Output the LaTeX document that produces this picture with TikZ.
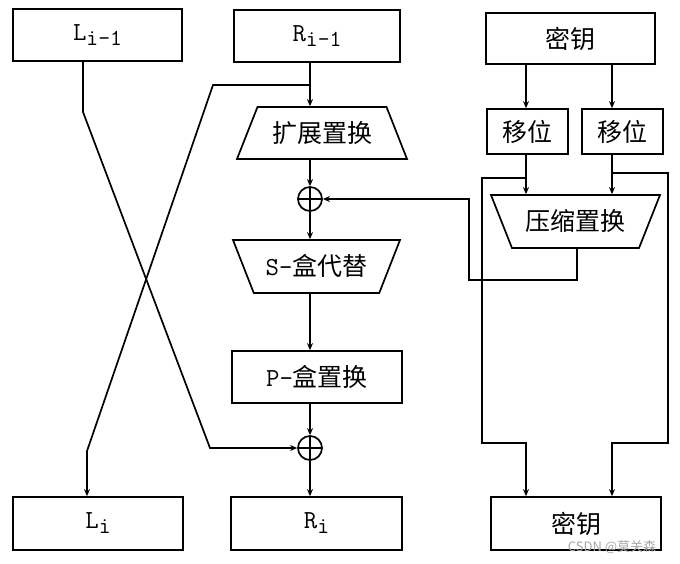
\documentclass[tikz,border=0pt]{standalone}
\usepackage{fontspec}
\newfontfamily\cjk{Noto Sans CJK SC}
\usetikzlibrary{shapes.geometric,arrows.meta}
\newcommand{\lowsub}[1]{\raisebox{-5pt}{\fontsize{23}{24}\selectfont #1}}

\begin{document}
\begin{tikzpicture}[x=1pt,y=-1pt,line width=1.7pt,
  every node/.style={font=\ttfamily\fontsize{26}{28}\selectfont},
  zh/.style={font=\cjk\fontsize{25}{28}\selectfont},
  box/.style={draw,inner sep=0pt},
  trapup/.style={draw,trapezium,trapezium angle=#1,trapezium stretches body,
    inner sep=0pt,text height=35pt,text depth=17pt},
  trapdown/.style={draw,trapezium,trapezium left angle=#1,trapezium right angle=#1,
    trapezium stretches body,inner sep=0pt,text height=35pt,text depth=18pt},
  xor/.style={draw,circle,minimum size=24pt,inner sep=0pt,
    path picture={\draw (path picture bounding box.north) -- (path picture bounding box.south)
      (path picture bounding box.west) -- (path picture bounding box.east);}},
  arr/.style={-{Stealth[length=7pt,width=6pt]}}]
\useasboundingbox (0,0) rectangle (680,563);
            % Boxes
\node[box,minimum width=169pt,minimum height=52pt] (Lprev) at (97.5,35) {L\lowsub{i-1}};
\node[box,minimum width=166pt,minimum height=52pt] (Rprev) at (317,36) {R\lowsub{i-1}};
\node[box,zh,minimum width=169pt,minimum height=51pt] (Ktop) at (570.5,38.5) {密钥};
\node[box,zh,minimum width=81pt,minimum height=45pt] (Sh1) at (527.5,131.5) {移位};
\node[box,zh,minimum width=81pt,minimum height=45pt] (Sh2) at (622.5,131.5) {移位};
\node[box,minimum width=170pt,minimum height=52pt] (Pbox) at (317,377) {P-{\cjk\fontsize{25}{28}\selectfont 盒置换}};
\node[box,minimum width=170pt,minimum height=53pt] (Lnext) at (98,523.5) {L\lowsub{i}};
\node[box,minimum width=171pt,minimum height=53pt] (Rnext) at (316.5,523.5) {R\lowsub{i}};
\node[box,zh,minimum width=170pt,minimum height=53pt] (Kbot) at (576,523.5) {密钥};
            % Trapezia
\node[trapup=68.5,zh,minimum width=170pt] (Exp) at (322,133) {扩展置换};
\node[trapdown=111.4,minimum width=167pt] (Sbox) at (316.5,266.5) {S-{\cjk\fontsize{25}{28}\selectfont 盒代替}};
\node[trapdown=111.6,zh,minimum width=169pt] (Comp) at (575.5,221.5) {压缩置换};
            % XOR
\node[xor] (XOR1) at (310,199) {};
\node[xor] (XOR2) at (310,448) {};
%Bends
\coordinate (a1) at (83,112);
\coordinate (a2) at (210,448);
\coordinate (b1) at (213,85);
\coordinate (b2) at (87,451);
\coordinate (c1) at (526,0);
\coordinate (c2) at (612,0);
\coordinate (d1) at (482,178);
\coordinate (d2) at (482,443);
\coordinate (e1) at (668,173);
\coordinate (e2) at (668,443);
\coordinate (f1) at (577,280);
\coordinate (f2) at (469,280);
%Round function
\draw[arr] (Rprev.south -| XOR1) -- (Exp.north -| XOR1);
\draw[arr] (Exp.south -| XOR1) -- (XOR1.north);
\draw[arr] (XOR1.south) -- (Sbox.north -| XOR1);
\draw[arr] (Sbox.south -| XOR1) -- (Pbox.north -| XOR1);
\draw[arr] (Pbox.south -| XOR2) -- (XOR2.north);
\draw[arr] (XOR2.south) -- (Rnext.north -| XOR2);
%Crossing
\draw[arr] (Lprev.south -| a1) -- (a1) -- (a2) -- (XOR2.west);
\draw[arr] (b1 -| XOR1) -- (b1) -- (b2) -- (Lnext.north -| b2);
%Key schedule
\draw[arr] (Ktop.south -| c1) -- (Sh1.north -| c1);
\draw[arr] (Ktop.south -| c2) -- (Sh2.north -| c2);
\draw[arr] (Sh1.south -| c1) -- (Comp.north -| c1);
\draw[arr] (Sh2.south -| c2) -- (Comp.north -| c2);
\draw[arr] (d1 -| c1) -- (d1) -- (d2) -- (d2 -| c1) -- (Kbot.north -| c1);
\draw[arr] (e1 -| c2) -- (e1) -- (e2) -- (e2 -| c2) -- (Kbot.north -| c2);
\draw[arr] (Comp.south -| f1) -- (f1) -- (f2) -- (f2 |- XOR1) -- (XOR1.east);
%Mark
\node[text=gray!70,font=\cjk\fontsize{13}{14}\selectfont] (mark) at (612,547) {CSDN @莫关森};
\end{tikzpicture}
\end{document}
